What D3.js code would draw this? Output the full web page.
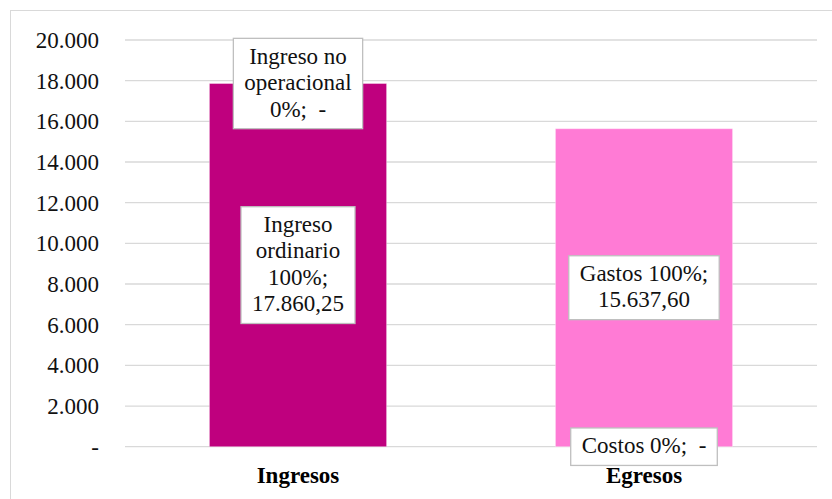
<!DOCTYPE html>
<html><head><meta charset="utf-8">
<script src="https://cdn.jsdelivr.net/npm/d3@7"></script>
<style>
html,body{margin:0;padding:0;background:#fff;}
</style></head>
<body>
<svg id="chart" width="832" height="499"></svg>
<script>
// ---- data ----
const categories = ["Ingresos", "Egresos"];
const lowerNames = ["Ingreso ordinario", "Costos"];
const lowerValues = [17860.25, 0];
const upperNames = ["Ingreso no operacional", "Gastos"];
const upperValues = [0, 15637.60];
const barColors = ["#BF007E", "#FF7BD5"];
const yTicks = [0, 2000, 4000, 6000, 8000, 10000, 12000, 14000, 16000, 18000, 20000];

// ---- layout ----
const W = 832, H = 499;
const FONT = "Liberation Serif";
const svg = d3.select("#chart");
const FS = 23;
const locale = d3.formatLocale({decimal: ",", thousands: ".", grouping: [3], currency: ["", ""]});
const fmtTick = v => v === 0 ? "-" : locale.format(",.0f")(v);
const fmtVal = v => v === 0 ? " -" : locale.format(",.2f")(v);

// outer frame
svg.append("rect").attr("x", 10.5).attr("y", 10.5).attr("width", W).attr("height", H)
  .attr("fill", "#fff").attr("stroke", "#d9d9d9").attr("stroke-width", 1);

const y = d3.scaleLinear().domain([0, 20000]).range([446.7, 40]);
const x = d3.scaleBand().domain(categories).range([125, 817]).paddingInner(0.488).paddingOuter(0.244);

// gridlines
svg.append("g").selectAll("line").data(yTicks).join("line")
  .attr("x1", 125).attr("x2", 817)
  .attr("y1", d => y(d)).attr("y2", d => y(d))
  .attr("stroke", "#d9d9d9").attr("stroke-width", 1.3);

// y axis labels
const yAxis = d3.axisLeft(y).tickValues(yTicks).tickFormat(fmtTick).tickSize(0).tickPadding(0);
const gy = svg.append("g").attr("transform", "translate(99,0)").call(yAxis);
gy.select(".domain").remove();
gy.selectAll("text").style("font-size", FS + "px").style("font-family", FONT)
  .attr("fill", "#111");

// stacked data
const rows = categories.map((c, i) => ({cat: c, lower: lowerValues[i], upper: upperValues[i]}));
const stack = d3.stack().keys(["lower", "upper"]);
const series = stack(rows);

const gBars = svg.append("g");
series.forEach(s => {
  gBars.selectAll(null).data(s).join("rect")
    .attr("x", (d, i) => x(categories[i]))
    .attr("width", x.bandwidth())
    .attr("y", d => y(d[1]))
    .attr("height", d => y(d[0]) - y(d[1]))
    .attr("fill", (d, i) => barColors[i])
    .attr("stroke", "rgba(255,255,255,0.35)").attr("stroke-width", 1);
});

// category labels
svg.append("g").selectAll("text").data(categories).join("text")
  .attr("x", d => x(d) + x.bandwidth() / 2).attr("y", 482.5)
  .attr("text-anchor", "middle")
  .style("font-weight", "bold").style("font-size", FS + "px").style("font-family", FONT)
  .attr("fill", "#000").text(d => d);

// data labels
const labels = [];
series.forEach(s => {
  s.forEach((d, i) => {
    const total = lowerValues[i] + upperValues[i];
    const v = d[1] - d[0];
    const name = s.key === "lower" ? lowerNames[i] : upperNames[i];
    const pct = Math.round(v / total * 100);
    labels.push({
      text: `${name} ${pct}%; ${fmtVal(v)}`,
      cx: x(categories[i]) + x.bandwidth() / 2,
      cy: (y(d[0]) + y(d[1])) / 2
    });
  });
});

const maxW = 140, lineH = FS * 1.15, padX = 11, padY = 5.5;
const gLab = svg.append("g");
labels.forEach(L => {
  const g = gLab.append("g");
  const rect = g.append("rect");
  const t = g.append("text").attr("text-anchor", "middle").attr("fill", "#111")
    .style("font-size", FS + "px").style("font-family", FONT).style("white-space", "pre");
  const words = L.text.split(/ (?! )/);
  const lines = [];
  let cur = "";
  const probe = g.append("text").style("font-size", FS + "px").style("font-family", FONT).style("white-space", "pre");
  words.forEach(w => {
    const tryS = cur ? cur + " " + w : w;
    probe.text(tryS);
    if (probe.node().getComputedTextLength() > maxW && cur) { lines.push(cur); cur = w; }
    else cur = tryS;
  });
  if (cur) lines.push(cur);
  let maxLen = 0;
  lines.forEach(l => { probe.text(l); maxLen = Math.max(maxLen, probe.node().getComputedTextLength()); });
  probe.remove();
  const h = lines.length * lineH;
  const top = L.cy - h / 2;
  lines.forEach((l, k) => {
    t.append("tspan").attr("x", L.cx).attr("y", top + k * lineH + FS * 0.86).text(l);
  });
  rect.attr("x", L.cx - maxLen / 2 - padX).attr("y", top - padY)
    .attr("width", maxLen + 2 * padX).attr("height", h + 2 * padY)
    .attr("fill", "#fff").attr("stroke", "#bfbfbf").attr("stroke-width", 1.3);
});
</script>
</body></html>
